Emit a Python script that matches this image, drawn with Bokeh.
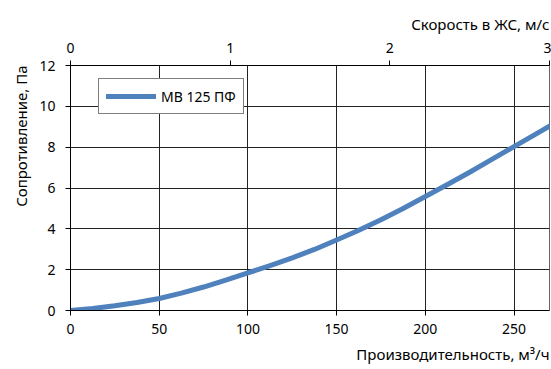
from bokeh.plotting import figure
from bokeh.models import (LinearAxis, Range1d, FixedTicker, Title, Legend, LegendItem, Grid)
from bokeh.embed import file_html
from bokeh.resources import INLINE

# data
flow = [0, 12.5, 25, 37.5, 50, 62.5, 75, 87.5, 100, 112.5, 125, 137.5, 150, 162.5,
        175, 187.5, 200, 212.5, 225, 237.5, 250, 262.5, 270]
resistance = [0, 0.1, 0.23, 0.39, 0.59, 0.85, 1.15, 1.49, 1.84, 2.2, 2.58, 2.99, 3.45, 3.93,
              4.45, 5.0, 5.58, 6.17, 6.77, 7.4, 8.03, 8.65, 9.03]
series_name = "МВ 125 ПФ"
x_ticks = [0, 50, 100, 150, 200, 250]
y_ticks = [0, 2, 4, 6, 8, 10, 12]
v_ticks = [0, 1, 2, 3]

FONT = "Noto Sans"

p = figure(width=551, height=369, output_backend="svg", toolbar_location=None,
           x_range=Range1d(0, 270), y_range=Range1d(0, 12),
           min_border_left=70, min_border_right=2, min_border_top=65, min_border_bottom=59,
           x_axis_location=None, y_axis_location=None)
p.background_fill_color = "white"
p.border_fill_color = "white"
p.outline_line_color = "#666666"
p.outline_line_width = 1

p.extra_x_ranges = {"v": Range1d(0, 3)}

def style(ax, standoff):
    ax.axis_line_color = "black"
    ax.major_tick_line_color = "black"
    ax.major_tick_out = 5
    ax.major_tick_in = 0
    ax.minor_tick_line_color = None
    ax.major_label_text_font = FONT
    ax.major_label_text_font_size = "14px"
    ax.major_label_text_color = "black"
    ax.major_label_standoff = standoff

xb = LinearAxis(ticker=FixedTicker(ticks=x_ticks))
style(xb, 8)
p.add_layout(xb, "below")
yl = LinearAxis(ticker=FixedTicker(ticks=y_ticks))
style(yl, 10)
p.add_layout(yl, "left")
xt = LinearAxis(x_range_name="v", ticker=FixedTicker(ticks=v_ticks))
style(xt, 8)
p.add_layout(xt, "above")

p.xgrid.visible = False
p.ygrid.visible = False
p.add_layout(Grid(dimension=0, ticker=xb.ticker, grid_line_color="#222222", grid_line_width=1))
p.add_layout(Grid(dimension=1, ticker=yl.ticker, grid_line_color="#222222", grid_line_width=1))

r = p.line(flow, resistance, line_color="#4f81bd", line_width=5, line_cap="round", line_join="round")

legend = Legend(items=[LegendItem(label=series_name, renderers=[r])],
                location=(28, 196), glyph_width=50, glyph_height=20,
                label_text_font=FONT, label_text_font_size="14px", label_text_color="black",
                border_line_color="black", border_line_width=1,
                padding=7, margin=0, spacing=0,
                background_fill_alpha=1)
p.add_layout(legend, "center")

t_bottom = Title(text="Производительность, м³/ч", align="right", text_font=FONT,
                 text_font_size="15px", text_font_style="normal", text_color="black", standoff=11)
p.add_layout(t_bottom, "below")
t_top = Title(text="Скорость в ЖС, м/с", align="right", text_font=FONT,
              text_font_size="15px", text_font_style="normal", text_color="black", standoff=12)
p.add_layout(t_top, "above")
t_left = Title(text="Сопротивление, Па", align="right", text_font=FONT,
               text_font_size="15px", text_font_style="normal", text_color="black", standoff=12)
p.add_layout(t_left, "left")

open("out.html", "w").write(file_html(p, INLINE))
